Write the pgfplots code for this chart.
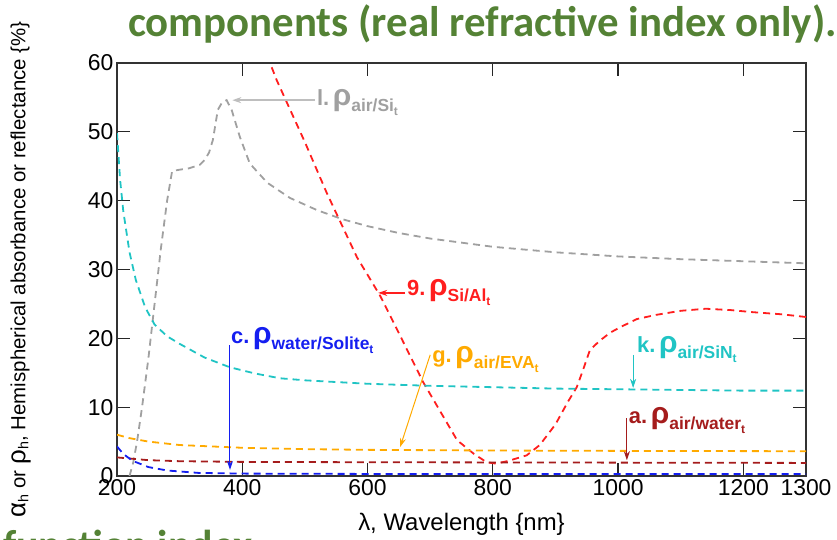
\documentclass[border=0pt]{standalone}
\usepackage{pgfplots}
\pgfplotsset{compat=1.18}
\usepackage{fontspec}
\setmainfont{Liberation Sans}
\newfontfamily\carlito{Carlito}
\usetikzlibrary{arrows.meta}
\definecolor{cgray}{RGB}{160,160,160}
\definecolor{cgrayarrow}{RGB}{190,190,190}
\definecolor{cred}{RGB}{255,30,30}
\definecolor{ccyan}{RGB}{32,196,196}
\definecolor{corange}{RGB}{255,170,0}
\definecolor{cdred}{RGB}{165,28,28}
\definecolor{cblue}{RGB}{20,30,240}
\definecolor{cgreen}{RGB}{84,130,53}
\newcommand{\lab}[2]{\bfseries\fontsize{22}{24}\selectfont #1\,\fontsize{30}{30}\selectfont ρ\raisebox{-6bp}{\fontsize{17.5}{17.5}\selectfont #2\raisebox{-4bp}{\fontsize{12}{12}\selectfont t}}}
\begin{document}
\begin{tikzpicture}
\useasboundingbox (0,0) rectangle (837bp,540bp);
\node[anchor=base west, text=cgreen, inner sep=0pt] at (128bp,503bp) {\carlito\bfseries\fontsize{43}{43}\selectfont components (real refractive index only).};
\node[anchor=base west, text=cgreen, inner sep=0pt] at (3bp,-19bp) {\carlito\bfseries\fontsize{42}{42}\selectfont function index};
\begin{axis}[
  at={(117bp,64bp)}, anchor=south west,
  scale only axis, width=689bp, height=413bp,
  xmin=200, xmax=1300, ymin=0, ymax=60,
  xtick={200,400,600,800,1000,1200,1300},
  ytick={0,10,20,30,40,50,60},
  tick align=inside, major tick length=13bp,
  axis line style={line width=1.8bp, black!80},
  tick style={line width=1.2bp, black!85},
  ticklabel style={font=\fontsize{23}{23}\selectfont},
  /pgf/number format/assume math mode=true,
  /pgf/number format/set thousands separator={},
  xlabel={λ, Wavelength \{nm\}},
  ylabel={{\fontsize{26}{26}\selectfont α}\textsubscript{h} or {\fontsize{26}{26}\selectfont ρ}\textsubscript{h}, Hemispherical absorbance or reflectance \{\%\}},
  xlabel style={font=\fontsize{24}{24}\selectfont, at={(axis description cs:0.5,-0.118)}, anchor=center},
  ylabel style={font=\fontsize{20.5}{20.5}\selectfont, at={(axis description cs:-0.14,0.5)}, anchor=center, rotate=0},
  every axis plot/.style={line width=1.8bp, dash pattern=on 7bp off 5bp},
  clip=true,
]
% l. air/Si (gray)
\addplot[cgray] coordinates {(220,0)(226,2)(232,5)(240,10)(250,17)(260,25)(270,33)(280,40)(288,44.3)(300,44.5)(315,44.7)(332,45.2)(340,45.9)(347,47)(353,48.8)(361,53.2)(368,54.3)(375,54.6)(383,53.2)(396,49.3)(412,45.4)(440,42.6)(476,40.4)(520,38.6)(560,37.3)(600,36.3)(650,35.3)(700,34.5)(800,33.3)(900,32.5)(1000,31.9)(1100,31.5)(1200,31.2)(1300,30.9)};
% 9. Si/Al (red)
\addplot[cred] coordinates {(440,61)(455,57.5)(500,48.5)(535,41.1)(583,31.8)(620,26.2)(641,22.4)(689,13.6)(743,5.2)(770,3.2)(790,2.0)(805,1.8)(825,2.2)(854,3.0)(875,4.5)(900,7.5)(920,10.8)(934,12.9)(944,15.4)(955,18.3)(970,19.6)(987,20.8)(1003,21.6)(1030,22.8)(1060,23.4)(1100,24.0)(1140,24.3)(1180,24.1)(1215,23.8)(1260,23.5)(1300,23.1)};
% k. air/SiN (cyan)
\addplot[ccyan] coordinates {(200,49.8)(205,43)(210,38.5)(220,32.5)(230,28.5)(245,24.5)(260,22)(280,20.3)(300,19.2)(340,17.2)(380,15.8)(420,14.9)(460,14.2)(500,13.9)(600,13.4)(700,13.1)(800,12.9)(900,12.7)(1000,12.6)(1100,12.5)(1200,12.4)(1300,12.4)};
% g. air/EVA (orange)
\addplot[corange] coordinates {(200,6)(220,5.5)(250,5.0)(300,4.5)(400,4.1)(500,3.9)(600,3.8)(800,3.7)(1000,3.65)(1300,3.6)};
% a. air/water (dark red)
\addplot[cdred] coordinates {(200,2.7)(250,2.3)(300,2.15)(400,2.05)(600,2.0)(1300,1.9)};
% c. water/Solite (blue)
\addplot[cblue] coordinates {(200,4.3)(210,3.2)(225,2.2)(250,1.3)(280,0.8)(330,0.45)(400,0.35)(600,0.3)(1300,0.3)};
% annotations
\draw[cgrayarrow, line width=1.5bp, -{Stealth[length=9bp,width=6bp]}] (axis cs:516,54.6) -- (axis cs:384,54.6);
\node[anchor=west, inner sep=0pt, text=cgray] at (axis cs:519,54.3) {\lab{l.}{air/Si}};
\draw[cred, line width=1.5bp, -{Stealth[length=9bp,width=6bp]}] (axis cs:660,26.6) -- (axis cs:617,26.6);
\node[anchor=west, inner sep=0pt, text=cred] at (axis cs:663,26.6) {\lab{9.}{Si/Al}};
\draw[cblue, line width=1bp, -{Stealth[length=9bp,width=6bp]}] (axis cs:380.4,19.0) -- (axis cs:380.4,0.9);
\node[anchor=west, inner sep=0pt, text=cblue] at (axis cs:382,19.7) {\lab{c.}{water/Solite}};
\draw[corange, line width=1bp, -{Stealth[length=9bp,width=6bp]}] (axis cs:700,17.6) -- (axis cs:652,4.2);
\node[anchor=west, inner sep=0pt, text=corange] at (axis cs:703,16.9) {\lab{g.}{air/EVA}};
\draw[ccyan, line width=1bp, -{Stealth[length=9bp,width=6bp]}] (axis cs:1024,17.6) -- (axis cs:1024,12.8);
\node[anchor=west, inner sep=0pt, text=ccyan] at (axis cs:1030,18.4) {\lab{k.}{air/SiN}};
\draw[cdred, line width=1bp, -{Stealth[length=9bp,width=6bp]}] (axis cs:1014,8.4) -- (axis cs:1014,2.3);
\node[anchor=west, inner sep=0pt, text=cdred] at (axis cs:1017,8.1) {\lab{a.}{air/water}};
\end{axis}
\end{tikzpicture}
\end{document}
